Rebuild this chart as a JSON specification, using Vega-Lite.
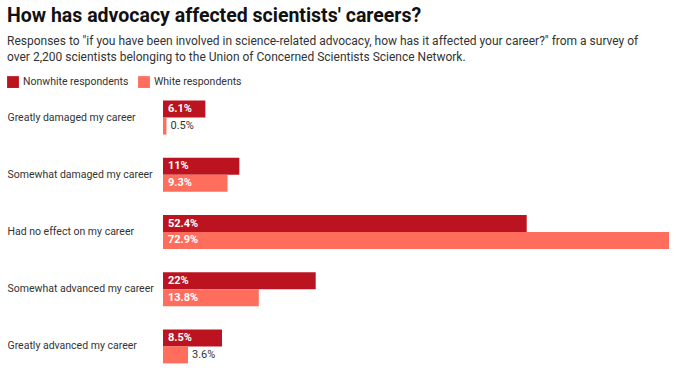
{
  "$schema": "https://vega.github.io/schema/vega-lite/v6.json",
  "width": 506,
  "height": 286,
  "padding": {"left": 7, "right": 11, "top": 5, "bottom": 0},
  "background": "white",
  "title": {
    "text": "How has advocacy affected scientists' careers?",
    "subtitle": [
      "Responses to \"if you have been involved in science-related advocacy, how has it affected your career?\" from a survey of",
      "over 2,200 scientists belonging to the Union of Concerned Scientists Science Network."
    ],
    "anchor": "start",
    "frame": "bounds",
    "font": "Roboto",
    "fontSize": 19.5,
    "fontWeight": "bold",
    "color": "#111111",
    "subtitleFont": "Roboto",
    "subtitleFontSize": 12,
    "subtitleColor": "#333333",
    "subtitleLineHeight": 16,
    "subtitlePadding": 10,
    "offset": 12
  },
  "config": {
    "view": {"stroke": null},
    "font": "Roboto"
  },
  "data": {
    "values": [
      {"response": "Greatly damaged my career", "group": "Nonwhite respondents", "pct": 0.061},
      {"response": "Greatly damaged my career", "group": "White respondents", "pct": 0.005},
      {"response": "Somewhat damaged my career", "group": "Nonwhite respondents", "pct": 0.11},
      {"response": "Somewhat damaged my career", "group": "White respondents", "pct": 0.093},
      {"response": "Had no effect on my career", "group": "Nonwhite respondents", "pct": 0.524},
      {"response": "Had no effect on my career", "group": "White respondents", "pct": 0.729},
      {"response": "Somewhat advanced my career", "group": "Nonwhite respondents", "pct": 0.22},
      {"response": "Somewhat advanced my career", "group": "White respondents", "pct": 0.138},
      {"response": "Greatly advanced my career", "group": "Nonwhite respondents", "pct": 0.085},
      {"response": "Greatly advanced my career", "group": "White respondents", "pct": 0.036}
    ]
  },
  "encoding": {
    "y": {
      "field": "response",
      "type": "nominal",
      "sort": null,
      "scale": {"paddingInner": 0.406, "paddingOuter": 0.203},
      "axis": {
        "title": null,
        "domain": false,
        "ticks": false,
        "labelAlign": "left",
        "labelPadding": 156,
        "labelFont": "Roboto",
        "labelFontSize": 10.5,
        "labelColor": "#333333",
        "labelLimit": 200
      }
    },
    "yOffset": {
      "field": "group",
      "type": "nominal",
      "scale": {"paddingInner": 0, "paddingOuter": 0}
    },
    "x": {
      "field": "pct",
      "type": "quantitative",
      "scale": {"domain": [0, 0.729], "nice": false},
      "axis": null
    }
  },
  "layer": [
    {
      "mark": {"type": "bar", "cornerRadius": 0},
      "encoding": {
        "color": {
          "field": "group",
          "type": "nominal",
          "scale": {
            "domain": ["Nonwhite respondents", "White respondents"],
            "range": ["#bb1420", "#ff6e5c"]
          },
          "legend": {
            "title": null,
            "orient": "none",
            "legendX": -156,
            "legendY": -13,
            "direction": "horizontal",
            "symbolType": "square",
            "symbolSize": 140,
            "symbolStrokeWidth": 0,
            "labelFont": "Roboto",
            "labelFontSize": 10.5,
            "labelColor": "#333333",
            "labelOffset": 4,
            "columnPadding": 9
          }
        }
      }
    },
    {
      "transform": [{"filter": "datum.pct >= 0.05"}],
      "mark": {"type": "text", "align": "left", "baseline": "middle", "dx": 5, "color": "white", "fontWeight": "bold", "fontSize": 11, "font": "Roboto"},
      "encoding": {
        "x": {"datum": 0, "type": "quantitative"},
        "text": {"field": "pct", "type": "quantitative", "format": ".1~%"}
      }
    },
    {
      "transform": [{"filter": "datum.pct < 0.05"}],
      "mark": {"type": "text", "align": "left", "baseline": "middle", "dx": 4, "color": "#333333", "fontSize": 11, "font": "Roboto"},
      "encoding": {
        "text": {"field": "pct", "type": "quantitative", "format": ".1~%"}
      }
    }
  ]
}
